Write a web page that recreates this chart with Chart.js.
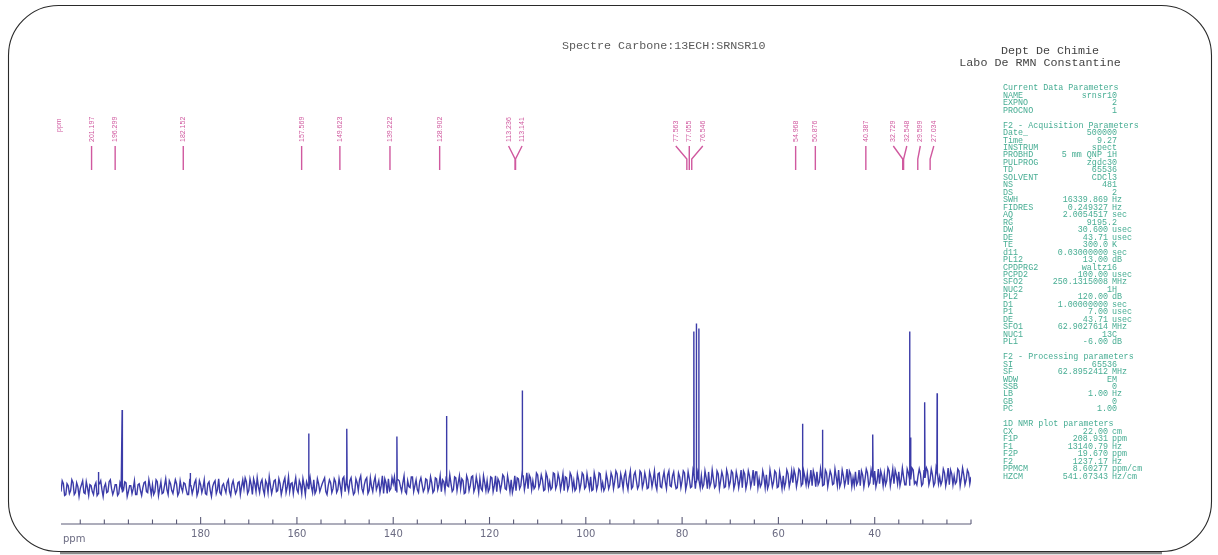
<!DOCTYPE html>
<html lang="fr">
<head>
  <meta charset="UTF-8">
  <title>Spectre Carbone:13ECH:SRNSR10</title>
  <script src="https://cdn.jsdelivr.net/npm/chart.js"></script>
  <style>
    html, body { margin: 0; padding: 0; background: #fff; }
    #wrap { width: 1218px; height: 555px; }
  </style>
</head>
<body>
  <div id="wrap"><canvas id="spectre" width="1218" height="555"></canvas></div>

  <script>
    // Ligne de base (bruit) : de 209 ppm à 20 ppm, pas de 0.5 ppm, valeurs lues sur le scan
    const gridStart = 209;
    const gridStep = 0.5;
    const noiseRows = [
      [-9,-1,-12,-3,-8,0,-10,-4,-6,2,-11,-5,-2,-9,-3,-13,-1,-7,-4,-10,1,-6,-8,-2,-11,-4,-7,0,-9,-3,-6,-12,-2,-8,-5,1,-10,-4],
      [-2,-9,1,-6,-11,-3,-7,2,-8,-4,-1,-10,-5,0,-7,-12,-3,-6,3,-9,-2,-5,-11,-1,-8,-4,2,-7,-10,-3,-6,0,-9,-2,-5,-8,1,-4],
      [-6,1,-8,-2,4,-9,-4,0,-7,2,-10,-3,-5,3,-8,-1,-6,5,-4,-9,0,-2,-7,2,-11,-3,1,-6,-4,3,-8,-1,-5,2,-9,-3,0,-6],
      [1,-7,-3,4,-9,-1,2,-5,-10,0,3,-6,-2,5,-8,-4,1,-7,2,-3,-11,0,4,-6,-1,-8,3,-4,0,-9,2,-5,6,-3,-7,1,-2,-6],
      [3,-5,0,-8,4,-2,-9,1,6,-4,-1,-7,5,0,-6,2,-10,3,-3,7,-5,-1,4,-8,0,2,-6,5,-3,-9,1,-2,6,-7,0,3,-4,-8],
      [4,-3,7,0,-6,5,2,-4,8,-1,3,-7,6,1,-5,9,-2,4,0,-8,5,-3,7,2,-6,3,-1,8,-4,1,6,-7,4,-2,9,0,-5,3],
      [-2,6,1,9,-4,3,7,-1,5,-6,8,2,-3,10,0,4,-5,6,3,-2,9,-4,5,1,8,-3,7,0,-5,6,2,10,-1,4,-4,8,1,3],
      [7,-2,5,11,0,4,-3,9,2,6,-4,8,1,10,-1,5,3,-5,9,0,7,2,-3,11,4,-1,6,8,-2,5,1,10,-4,3,7,0,9,2],
      [0,8,3,12,-1,6,9,2,-3,7,11,1,5,-2,10,4,8,-1,6,13,0,7,3,-2,9,5,11,1,-3,8,4,10,0,6,12,2,-1,7],
      [9,2,12,5,-1,8,11,3,6,-2,10,4,13,1,7,9,-1,5,12,3,8,0,11,6,2,10,4,-2,9,7,1,12,5,8,3,10,6]
    ];
    // valeurs intermédiaires (à mi-chemin, 208.75, 208.25 ... ppm)
    const noiseMidRows = [
      [2,-13,-1,-11,3,-12,0,-14,-2,-10,1,-13,-3,-12,0,-11,2,-14,-1,-9,3,-12,-2,-13,0,-10,1,-14,-3,-11,2,-12,-1,-13,0,-9,3,-12],
      [-12,3,-13,1,-10,4,-12,-1,-11,3,-13,2,-9,-1,-12,4,-11,0,-13,2,-10,3,-12,1,-14,0,-11,4,-12,-1,-10,3,-13,2,-11,0,-12,3],
      [5,-11,4,-12,-1,5,-10,3,-12,-1,6,-11,2,-9,4,-12,1,-10,6,-1,-11,5,-10,-2,4,-12,-3,5,-10,-11,4,-9,-1,5,-12,3,-10,4],
      [-10,4,-11,6,2,-9,5,-12,4,-8,7,-10,3,-11,5,-9,6,-3,-10,7,4,-11,-8,5,6,-10,2,-9,7,-11,-4,6,-9,3,-10,5,-9,4],
      [-9,6,-10,5,-7,7,3,-8,-3,8,-9,6,-8,7,4,-11,7,-8,6,-9,6,-10,-6,7,-8,-9,6,-9,7,4,-8,8,-6,7,-9,-10,7,5],
      [-6,9,-7,10,8,-7,-6,10,-5,8,-8,10,-6,-7,10,-6,9,-7,9,6,-7,10,-6,-8,9,-7,10,-6,9,-6,-8,10,-7,10,-6,-8,9,-6],
      [10,-6,12,-5,9,-6,11,-7,12,-4,11,-6,12,-5,10,-6,11,-4,12,-7,10,-5,11,-6,12,-4,11,-6,10,-5,12,-7,11,-5,12,-6,10,-5],
      [-5,12,-6,-4,13,-5,12,-6,11,-5,13,-4,12,-6,11,-5,13,12,-6,12,-4,13,11,-5,-4,12,-5,-6,13,-4,12,-5,11,-6,-5,13,-4,12],
      [13,-4,14,-3,12,-2,-3,13,12,-4,-2,14,-3,13,-4,12,-2,14,-3,-4,13,-3,14,12,-4,-3,-2,13,12,-4,14,-3,13,-2,-4,14,12,-3],
      [-2,15,-3,14,13,-1,-3,15,-2,14,-3,15,-1,-2,14,-3,13,15,-2,14,-3,15,-1,-2,14,-3,15,13,-2,-1,14,-3,15,-2,13,-1]
    ];

    // Pics (ppm) et hauteur du sommet
    const peakPpm = [201.197, 196.299, 182.152, 157.569, 149.623, 139.222, 128.902, 113.236, 113.141,
                     77.563, 77.055, 76.546, 54.968, 50.876, 40.387, 32.729, 32.548, 29.599, 27.034];
    const peakTop = [11, 74, 10, 50, 55, 47, 68, 94, 88,
                     154, 162, 157, 60, 54, 49, 154, 46, 82, 91];

    // Graduations de l'axe ppm
    const xTickLabels = [180, 160, 140, 120, 100, 80, 60, 40];

    // Paramètres Bruker (colonne de droite)
    const paramLines = [
      ['Current Data Parameters'],
      ['NAME', 'srnsr10'], ['EXPNO', '2'], ['PROCNO', '1'],
      [],
      ['F2 - Acquisition Parameters'],
      ['Date_', '500000'], ['Time', '9.27'], ['INSTRUM', 'spect'], ['PROBHD', '5 mm QNP 1H'],
      ['PULPROG', 'zgdc30'], ['TD', '65536'], ['SOLVENT', 'CDCl3'], ['NS', '481'], ['DS', '2'],
      ['SWH', '16339.869', 'Hz'], ['FIDRES', '0.249327', 'Hz'], ['AQ', '2.0054517', 'sec'],
      ['RG', '9195.2'], ['DW', '30.600', 'usec'], ['DE', '43.71', 'usec'], ['TE', '300.0', 'K'],
      ['d11', '0.03000000', 'sec'], ['PL12', '13.00', 'dB'], ['CPDPRG2', 'waltz16'],
      ['PCPD2', '100.00', 'usec'], ['SFO2', '250.1315008', 'MHz'], ['NUC2', '1H'],
      ['PL2', '120.00', 'dB'], ['D1', '1.00000000', 'sec'], ['P1', '7.00', 'usec'],
      ['DE', '43.71', 'usec'], ['SFO1', '62.9027614', 'MHz'], ['NUC1', '13C'], ['PL1', '-6.00', 'dB'],
      [],
      ['F2 - Processing parameters'],
      ['SI', '65536'], ['SF', '62.8952412', 'MHz'], ['WDW', 'EM'], ['SSB', '0'],
      ['LB', '1.00', 'Hz'], ['GB', '0'], ['PC', '1.00'],
      [],
      ['1D NMR plot parameters'],
      ['CX', '22.00', 'cm'], ['F1P', '208.931', 'ppm'], ['F1', '13140.79', 'Hz'],
      ['F2P', '19.670', 'ppm'], ['F2', '1237.17', 'Hz'], ['PPMCM', '8.60277', 'ppm/cm'],
      ['HZCM', '541.07343', 'Hz/cm']
    ];

    // --- construction du spectre : bruit + pics fins ---
    const noise = noiseRows.flat();
    const noiseMid = noiseMidRows.flat();
    const baseAt = ppm => noise[Math.max(0, Math.min(noise.length - 1, Math.round((gridStart - ppm) / gridStep)))];
    const points = noise.map((v, i) => ({ x: gridStart - i * gridStep, y: v }));
    noiseMid.forEach((v, i) => points.push({ x: gridStart - gridStep / 2 - i * gridStep, y: v }));
    peakPpm.forEach((p, i) => {
      points.push({ x: p + 0.05, y: baseAt(p) });
      points.push({ x: p, y: peakTop[i] });
      points.push({ x: p - 0.05, y: baseAt(p) });
    });
    points.sort((a, b) => b.x - a.x);

    const pink = '#d0599f';
    const labelShift = -7;   // étiquettes décalées comme sur le tracé d'origine
    const labelGap = 13.5;

    // Etiquettes, axe, cadre et textes
    const decor = {
      id: 'decor',
      beforeDraw(chart) {
        const ctx = chart.ctx;
        ctx.save();
        ctx.fillStyle = '#fff';
        ctx.fillRect(0, 0, chart.width, chart.height);
        ctx.restore();
      },
      afterDraw(chart) {
        const ctx = chart.ctx;
        const xs = chart.scales.x;
        const yAxis = chart.chartArea.bottom;
        ctx.save();

        // axe ppm avec graduations vers le haut
        ctx.strokeStyle = '#5c5c78';
        ctx.lineWidth = 1.1;
        ctx.beginPath();
        ctx.moveTo(xs.getPixelForValue(xs.max), yAxis);
        ctx.lineTo(xs.getPixelForValue(xs.min), yAxis);
        xs.ticks.forEach(t => {
          const px = xs.getPixelForValue(t.value);
          const len = xTickLabels.includes(t.value) ? 7 : 4.5;
          ctx.moveTo(px, yAxis);
          ctx.lineTo(px, yAxis - len);
        });
        ctx.stroke();
        ctx.fillStyle = '#6b6b82';
        ctx.font = '10px "DejaVu Sans"';
        ctx.textAlign = 'left';
        ctx.textBaseline = 'middle';
        ctx.fillText('ppm', 63, yAxis + 15);

        // positions des étiquettes de pics (groupées si trop proches)
        const nat = peakPpm.map(p => xs.getPixelForValue(p) + labelShift);
        let groups = [];
        const span = g => {
          const c = g.sum / g.idx.length;
          const half = (g.idx.length - 1) * labelGap / 2;
          return [c - half, c + half];
        };
        nat.forEach((n, i) => {
          groups.push({ idx: [i], sum: n });
          while (groups.length > 1) {
            const g = groups[groups.length - 1];
            const prev = groups[groups.length - 2];
            if (span(prev)[1] + labelGap > span(g)[0]) {
              groups.pop();
              prev.idx = prev.idx.concat(g.idx);
              prev.sum += g.sum;
            } else break;
          }
        });
        const lx = [];
        groups.forEach(g => {
          const s = span(g)[0];
          g.idx.forEach((i, k) => { lx[i] = s + k * labelGap; });
        });

        ctx.fillStyle = pink;
        ctx.strokeStyle = pink;
        ctx.lineWidth = 1.4;
        ctx.font = '7px "Liberation Sans"';
        peakPpm.forEach((p, i) => {
          ctx.save();
          ctx.translate(lx[i], 142);
          ctx.rotate(-Math.PI / 2);
          ctx.textAlign = 'left';
          ctx.textBaseline = 'middle';
          ctx.fillText(p.toFixed(3), 0, 0);
          ctx.restore();
          ctx.beginPath();
          ctx.moveTo(lx[i], 146);
          if (Math.abs(lx[i] - nat[i]) > 0.5) ctx.lineTo(nat[i], 159);
          ctx.lineTo(nat[i], 170);
          ctx.stroke();
        });
        ctx.save();
        ctx.translate(59, 132);
        ctx.rotate(-Math.PI / 2);
        ctx.textBaseline = 'middle';
        ctx.fillText('ppm', 0, 0);
        ctx.restore();

        // titres
        ctx.fillStyle = '#5a5a5a';
        ctx.font = '11.7px "Liberation Mono"';
        ctx.textBaseline = 'middle';
        ctx.textAlign = 'left';
        ctx.fillText('Spectre Carbone:13ECH:SRNSR10', 562, 46);
        ctx.fillStyle = '#444';
        ctx.textAlign = 'center';
        ctx.fillText('Dept De Chimie', 1050, 51);
        ctx.fillText('Labo De RMN Constantine', 1040, 63);

        // bloc de paramètres
        ctx.fillStyle = '#47ad93';
        ctx.font = '8.4px "Liberation Mono"';
        paramLines.forEach((row, i) => {
          const y = 88 + i * 7.47;
          if (row.length === 0) return;
          ctx.textAlign = 'left';
          ctx.fillText(row[0], 1003, y);
          if (row.length === 2) {
            ctx.textAlign = 'right';
            ctx.fillText(row[1], 1117, y);
          } else if (row.length === 3) {
            ctx.textAlign = 'right';
            ctx.fillText(row[1], 1108, y);
            ctx.textAlign = 'left';
            ctx.fillText(row[2], 1112, y);
          }
        });

        // cadre arrondi
        ctx.strokeStyle = '#8a8a8a';
        ctx.lineWidth = 2.5;
        ctx.beginPath();
        ctx.moveTo(60, 553);
        ctx.lineTo(1162, 553);
        ctx.stroke();
        ctx.strokeStyle = '#2a2a2a';
        ctx.lineWidth = 1.1;
        ctx.beginPath();
        ctx.roundRect(8.5, 5.5, 1203, 546, 50);
        ctx.stroke();
        ctx.restore();
      }
    };

    new Chart(document.getElementById('spectre'), {
      type: 'line',
      data: {
        datasets: [{
          label: '13C',
          data: points,
          borderColor: '#3b3ba8',
          borderWidth: 1.4,
          pointRadius: 0,
          tension: 0
        }]
      },
      options: {
        responsive: false,
        animation: false,
        layout: { padding: { left: 61, right: 247, top: 300, bottom: 11 } },
        plugins: { legend: { display: false }, tooltip: { enabled: false } },
        scales: {
          x: {
            type: 'linear',
            reverse: true,
            min: 20,
            max: 209,
            grid: { display: false, drawTicks: false },
            border: { display: false },
            ticks: {
              stepSize: 5,
              includeBounds: false,
              autoSkip: false,
              maxRotation: 0,
              padding: 4,
              color: '#6b6b82',
              font: { family: 'DejaVu Sans', size: 10 },
              callback: v => xTickLabels.includes(v) ? String(v) : ''
            }
          },
          y: { display: false, min: -42, max: 186 }
        }
      },
      plugins: [decor]
    });
  </script>
</body>
</html>
